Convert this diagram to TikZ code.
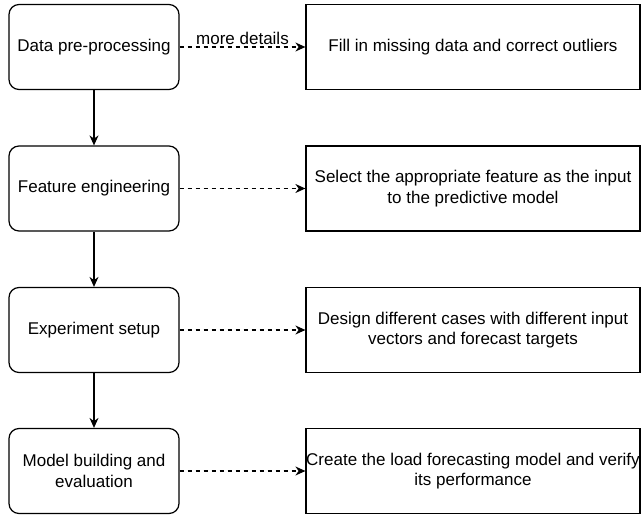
\documentclass[tikz,border=0pt]{standalone}
\usepackage{fontspec}
\setmainfont{Liberation Sans}
\usetikzlibrary{arrows.meta}

\tikzset{
    lbox/.style={draw, line width=1.2pt, rounded corners=10pt, minimum width=170pt, minimum height=85pt, align=center, font=\fontsize{17}{20.5}\selectfont},
    rbox/.style={draw, line width=1.2pt, inner xsep=0pt, minimum width=334pt, minimum height=85pt, align=center, font=\fontsize{17}{20.5}\selectfont},
    more/.style={->, line width=1.2pt, dash pattern=on 4pt off 4pt}
}

\begin{document}
\begin{tikzpicture}[x=1pt, y=-1pt, >={Stealth[length=10pt,width=9pt]}]
    \useasboundingbox (0,0) rectangle (641,515);

    \node[lbox] (pre) at (94,47) {Data pre-processing};
    \node[lbox] (feat) at (94,188.5) {Feature engineering};
    \node[lbox] (exp) at (94,330) {Experiment setup};
    \node[lbox] (model) at (94,471) {Model building and\\evaluation};

    \node[rbox] (fill) at (473,47) {Fill in missing data and correct outliers};
    \node[rbox] (sel) at (473,188.5) {Select the appropriate feature as the input\\to the predictive model};
    \node[rbox] (cases) at (473,330) {Design different cases with different input\\vectors and forecast targets};
    \node[rbox] (load) at (473,471) {Create the load forecasting model and verify\\its performance};

\foreach \a/\b in {pre/feat,feat/exp,exp/model}
{
    \draw[->, line width=1.2pt] (\a) -- (\b);
}

    \draw[more] (pre) -- (fill) node[midway, above, inner sep=2pt, font=\fontsize{17}{20.5}\selectfont]{more details};
\foreach \a/\b in {feat/sel,exp/cases,model/load}
{
    \draw[more] (\a) -- (\b);
}

\end{tikzpicture}
\end{document}
